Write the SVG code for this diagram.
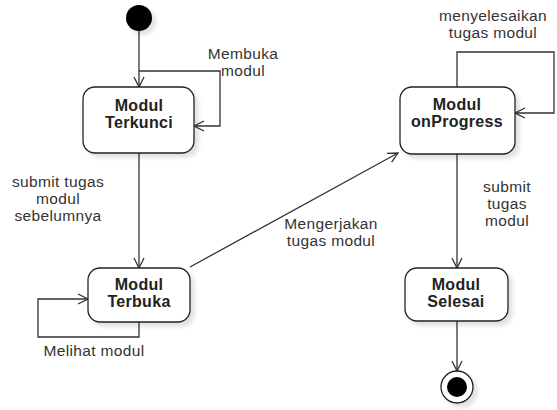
<svg xmlns="http://www.w3.org/2000/svg" width="557" height="410" viewBox="0 0 557 410">
<style>
.box{fill:#fff;stroke:#222;stroke-width:1.3}
.edge{fill:none;stroke:#333;stroke-width:1.3}
.t{font-family:"Liberation Sans",Arial,sans-serif;font-size:15.5px;letter-spacing:0.35px;fill:#333;text-anchor:middle}
.b{font-family:"Liberation Sans",Arial,sans-serif;font-size:16px;letter-spacing:0.3px;font-weight:bold;fill:#222;text-anchor:middle}
</style>
<defs>
<filter id="sh" x="-20%" y="-20%" width="150%" height="150%">
<feGaussianBlur in="SourceAlpha" stdDeviation="2"/>
<feOffset dx="4" dy="4" result="o"/>
<feComponentTransfer><feFuncA type="linear" slope="0.12"/></feComponentTransfer>
<feMerge><feMergeNode/><feMergeNode in="SourceGraphic"/></feMerge>
</filter>
<marker id="open" markerWidth="12" markerHeight="12" viewBox="0 0 12 12" refX="11" refY="6" orient="auto" markerUnits="userSpaceOnUse">
<path d="M1,1 L11,6 L1,11" fill="none" stroke="#333" stroke-width="1.3"/>
</marker>
</defs>
<g id="connectors">
<path class="edge" d="M139,31 V87" marker-end="url(#open)"/>
<path class="edge" d="M139,71 H220 V126 H194" marker-end="url(#open)"/>
<path class="edge" d="M139,153 V268" marker-end="url(#open)"/>
<path class="edge" d="M139,322 V337 H38 V299 H88" marker-end="url(#open)"/>
<path class="edge" d="M190,267 L398,153" marker-end="url(#open)"/>
<path class="edge" d="M457,87 V52 H554 V113 H515" marker-end="url(#open)"/>
<path class="edge" d="M457,154 V268" marker-end="url(#open)"/>
<path class="edge" d="M457,321 V371" marker-end="url(#open)"/>
<text class="t" x="243" y="59">Membuka</text>
<text class="t" x="243" y="76">modul</text>
<text class="t" x="58" y="187">submit tugas</text>
<text class="t" x="58" y="204">modul</text>
<text class="t" x="58" y="221">sebelumnya</text>
<text class="t" x="94" y="356">Melihat modul</text>
<text class="t" x="331" y="229">Mengerjakan</text>
<text class="t" x="331" y="246">tugas modul</text>
<text class="t" x="493" y="21">menyelesaikan</text>
<text class="t" x="493" y="38">tugas modul</text>
<text class="t" x="507" y="192">submit</text>
<text class="t" x="507" y="209">tugas</text>
<text class="t" x="507" y="226">modul</text>
</g>
<g id="start">
<circle cx="139" cy="18" r="13" fill="#000" filter="url(#sh)"/>
</g>
<g id="terkunci">
<rect class="box" x="83" y="87" width="111" height="66" rx="12" filter="url(#sh)"/>
<text class="b" x="139" y="111">Modul</text>
<text class="b" x="139" y="128">Terkunci</text>
</g>
<g id="terbuka">
<rect class="box" x="88" y="268" width="102" height="54" rx="12" filter="url(#sh)"/>
<text class="b" x="139" y="290">Modul</text>
<text class="b" x="139" y="307">Terbuka</text>
</g>
<g id="onprogress">
<rect class="box" x="400" y="87" width="115" height="67" rx="12" filter="url(#sh)"/>
<text class="b" x="457" y="110">Modul</text>
<text class="b" x="457" y="127">onProgress</text>
</g>
<g id="selesai">
<rect class="box" x="405" y="268" width="103" height="53" rx="12" filter="url(#sh)"/>
<text class="b" x="456" y="290">Modul</text>
<text class="b" x="456" y="307">Selesai</text>
</g>
<g id="end">
<circle cx="457" cy="387" r="16" fill="#fff" stroke="#222" stroke-width="1.3" filter="url(#sh)"/>
<circle cx="457" cy="387" r="10" fill="#000"/>
</g>
</svg>
